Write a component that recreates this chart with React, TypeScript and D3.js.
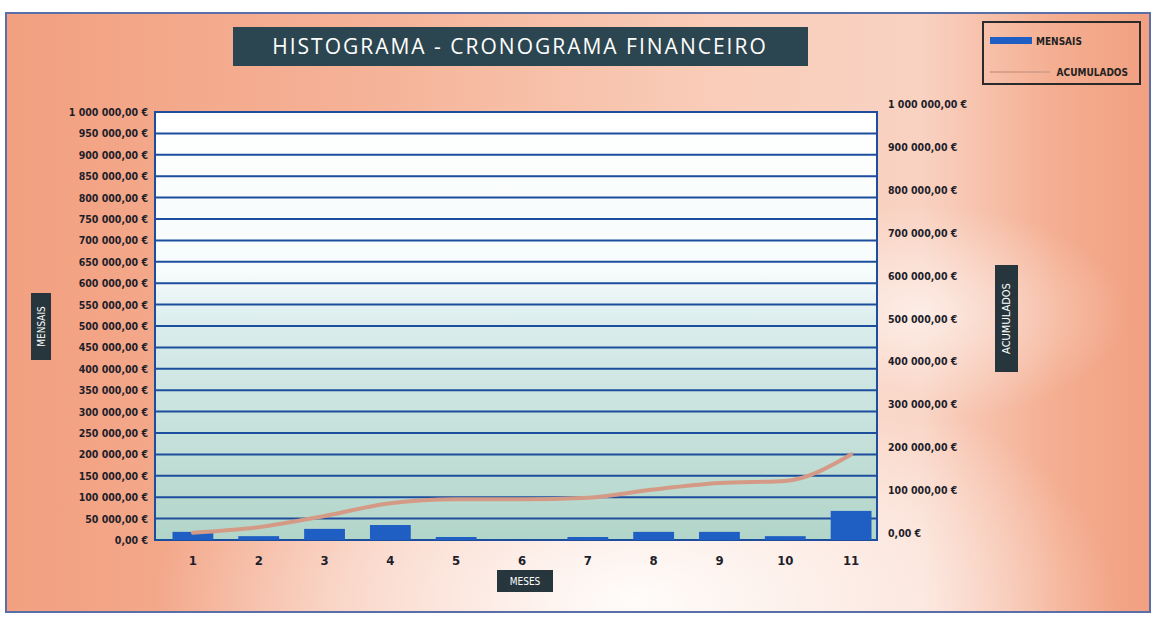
import React from "react";
import * as d3 from "d3";

const months = ["1", "2", "3", "4", "5", "6", "7", "8", "9", "10", "11"];
const mensais = [19000, 9000, 26000, 35000, 7000, 0, 7000, 19000, 19000, 9000, 68000];
const acumulados = [17000, 30000, 56000, 86000, 95000, 95000, 99000, 118000, 133000, 138000, 200000];
const leftTicks = d3.range(0, 1000001, 50000);
const rightTicks = d3.range(0, 1000001, 100000);

const W = 1161;
const H = 618;
const plot = { left: 155, right: 877, top: 112, bottom: 540 };

const locale = d3.formatLocale({ decimal: ",", thousands: " ", grouping: [3], currency: ["", " €"] });
const fmt = (v: number) => locale.format(",.2f")(v) + " €";

export default function App() {
  const x = d3.scaleBand<string>().domain(months).range([160, 884]).paddingInner(0.38).paddingOuter(0.19);
  const xc = (m: string) => (x(m) as number) + x.bandwidth() / 2;
  const y = d3.scaleLinear().domain([0, 1000000]).range([plot.bottom, plot.top]);
  const yR = d3.scaleLinear().domain([0, 1000000]).range([533, 104]);
  const line = d3
    .line<number>()
    .x((_, i) => xc(months[i]))
    .y((d) => y(d))
    .curve(d3.curveMonotoneX);
  const font = "'DejaVu Sans Condensed', 'DejaVu Sans', sans-serif";

  return (
    <svg width={W} height={H} style={{ position: "absolute", left: 0, top: 0 }} xmlns="http://www.w3.org/2000/svg">
      <defs>
        <linearGradient id="bg" x1="0" x2="1" y1="0" y2="0">
          <stop offset="0" stopColor="#f2a080" />
          <stop offset="0.3" stopColor="#f5b196" />
          <stop offset="0.62" stopColor="#f9cdb9" />
          <stop offset="0.8" stopColor="#f9d2c2" />
          <stop offset="0.92" stopColor="#f4ad90" />
          <stop offset="1" stopColor="#f2a081" />
        </linearGradient>
        <radialGradient id="glow" cx="0.55" cy="0.98" r="0.42">
          <stop offset="0" stopColor="#ffffff" stopOpacity="0.95" />
          <stop offset="0.6" stopColor="#ffffff" stopOpacity="0.5" />
          <stop offset="1" stopColor="#ffffff" stopOpacity="0" />
        </radialGradient>
        <radialGradient id="glow2" cx="0.8" cy="0.5" r="0.18">
          <stop offset="0" stopColor="#ffffff" stopOpacity="0.6" />
          <stop offset="1" stopColor="#ffffff" stopOpacity="0" />
        </radialGradient>
        <linearGradient id="plotbg" x1="0" x2="0" y1="0" y2="1">
          <stop offset="0" stopColor="#ffffff" />
          <stop offset="0.38" stopColor="#f6fbfb" />
          <stop offset="0.5" stopColor="#d9ecec" />
          <stop offset="1" stopColor="#b2d5c9" />
        </linearGradient>
      </defs>
      <rect x={0} y={0} width={W} height={H} fill="#ffffff" />
      <rect x={6} y={13} width={1144} height={599} fill="url(#bg)" />
      <rect x={6} y={13} width={1144} height={599} fill="url(#glow)" />
      <rect x={6} y={13} width={1144} height={599} fill="url(#glow2)" />
      <rect x={6} y={13} width={1144} height={599} fill="none" stroke="#5a6ea8" strokeWidth={2} />

      {/* title */}
      <rect x={233} y={27} width={575} height={39} fill="#2b4650" />
      <text x={520} y={54} textAnchor="middle" fill="#ffffff" fontFamily="'Open Sans', sans-serif" fontSize={21} letterSpacing={2}>
        HISTOGRAMA - CRONOGRAMA FINANCEIRO
      </text>

      {/* legend */}
      <rect x={983} y={22} width={157} height={62} fill="none" stroke="#2a2a2a" strokeWidth={2} />
      <rect x={990} y={37} width={42} height={7} fill="#1f5fc4" />
      <text x={1036} y={45} fontFamily={font} fontWeight="bold" fontSize={10} fill="#222">MENSAIS</text>
      <line x1={990} x2={1050} y1={72} y2={72} stroke="#d9a08c" strokeWidth={2} />
      <text x={1128} y={76} textAnchor="end" fontFamily={font} fontWeight="bold" fontSize={10} fill="#222">ACUMULADOS</text>

      {/* plot */}
      <rect x={plot.left} y={plot.top} width={plot.right - plot.left} height={plot.bottom - plot.top} fill="url(#plotbg)" />
      {leftTicks.map((t) => (
        <line key={t} x1={plot.left} x2={plot.right} y1={y(t)} y2={y(t)} stroke="#1d4e9e" strokeWidth={2} />
      ))}
      <rect x={plot.left} y={plot.top} width={plot.right - plot.left} height={plot.bottom - plot.top} fill="none" stroke="#1d4e9e" strokeWidth={2} />

      {mensais.map((v, i) => (
        <rect key={i} x={x(months[i])} y={y(v)} width={x.bandwidth()} height={plot.bottom - y(v)} fill="#1f5fc4" />
      ))}
      <path d={line(acumulados) || ""} fill="none" stroke="#d49a86" strokeWidth={4} strokeLinecap="round" />

      {/* left axis */}
      {leftTicks.map((t) => (
        <text key={t} x={148} y={y(t) + 4} textAnchor="end" fontFamily={font} fontWeight="bold" fontSize={10.5} fill="#1e1e2a">
          {fmt(t)}
        </text>
      ))}
      {/* right axis */}
      {rightTicks.map((t) => (
        <text key={t} x={888} y={yR(t) + 4} fontFamily={font} fontWeight="bold" fontSize={10.5} fill="#1e1e2a">
          {fmt(t)}
        </text>
      ))}
      {/* x labels */}
      {months.map((m) => (
        <text key={m} x={xc(m)} y={565} textAnchor="middle" fontFamily={font} fontWeight="bold" fontSize={13} fill="#1e1e2a">
          {m}
        </text>
      ))}

      {/* axis titles */}
      <rect x={31} y={293} width={20} height={67} fill="#27363c" />
      <text transform="translate(45,326.5) rotate(-90)" textAnchor="middle" fontFamily={font} fontSize={10} fill="#ffffff">MENSAIS</text>
      <rect x={995} y={265} width={23} height={107} fill="#27363c" />
      <text transform="translate(1010,318.5) rotate(-90)" textAnchor="middle" fontFamily={font} fontSize={11} fill="#ffffff">ACUMULADOS</text>
      <rect x={497} y={570} width={56} height={22} fill="#27363c" />
      <text x={525} y={585} textAnchor="middle" fontFamily={font} fontSize={10} fill="#ffffff">MESES</text>
    </svg>
  );
}
